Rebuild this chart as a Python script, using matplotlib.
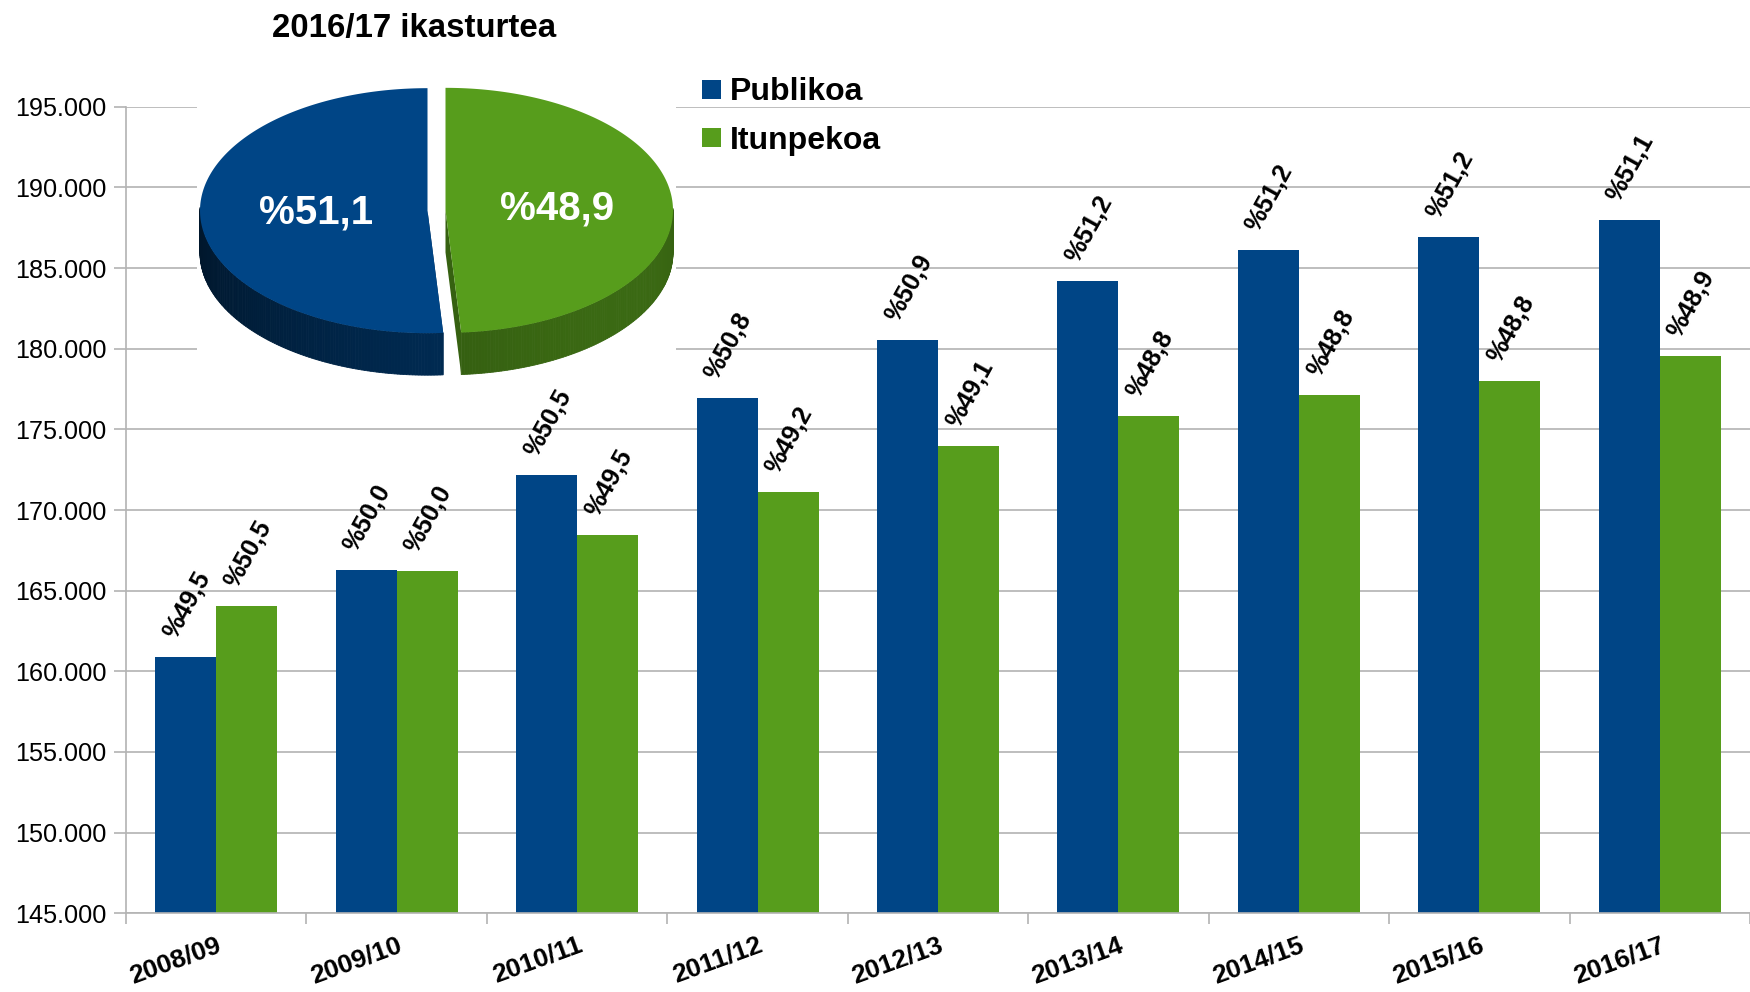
import numpy as np
import matplotlib
matplotlib.use('Agg')
import matplotlib.pyplot as plt
from matplotlib.patches import Polygon, Rectangle
from matplotlib.ticker import FuncFormatter, MultipleLocator, FixedLocator
from matplotlib.colors import to_rgb

plt.rcParams['font.family'] = ['Liberation Sans', 'DejaVu Sans']

# ---------------- data ----------------
years = ['2008/09', '2009/10', '2010/11', '2011/12', '2012/13',
         '2013/14', '2014/15', '2015/16', '2016/17']
publikoa = [160910, 166280, 172170, 176930, 180540, 184200, 186120, 186930, 187990]
itunpekoa = [164050, 166220, 168450, 171100, 173970, 175830, 177130, 178000, 179560]
pct_publikoa = ['49,5', '50,0', '50,5', '50,8', '50,9', '51,2', '51,2', '51,2', '51,1']
pct_itunpekoa = ['50,5', '50,0', '49,5', '49,2', '49,1', '48,8', '48,8', '48,8', '48,9']
series_names = ['Publikoa', 'Itunpekoa']
pie_title = '2016/17 ikasturtea'
pie_shares = [51.1, 48.9]
pie_labels = ['%51,1', '%48,9']

colors = ['#004586', '#579d1c']
GRID = '#b3b3b3'

W, H = 1750, 992
fig = plt.figure(figsize=(W / 100, H / 100), dpi=100)

# ---------------- bar chart ----------------
y_top_px, y_bot_px, x_left_px = 106.7, 913.3, 126
ax = fig.add_axes([x_left_px / W, 1 - y_bot_px / H, (W - x_left_px) / W, (y_bot_px - y_top_px) / H])
n = len(years)
xc = np.arange(n) + 0.5
bw = 61 / 180.4
ax.bar(xc - bw / 2, publikoa, bw, color=colors[0], zorder=2, label=series_names[0])
ax.bar(xc + bw / 2, itunpekoa, bw, color=colors[1], zorder=2, label=series_names[1])
ax.set_xlim(0, n)
ax.set_ylim(145000, 195000)
ax.yaxis.set_major_locator(MultipleLocator(5000))
ax.yaxis.set_major_formatter(FuncFormatter(lambda v, p: f'{int(round(v)):,}'.replace(',', '.')))
ax.grid(axis='y', color=GRID, lw=1.2, zorder=0)
ax.set_axisbelow(True)
for s in ['top', 'right']:
    ax.spines[s].set_visible(False)
for s in ['left', 'bottom']:
    ax.spines[s].set_color(GRID)
    ax.spines[s].set_linewidth(1.2)
ax.tick_params(axis='y', length=8.6, width=1.2, color=GRID, labelsize=18.2, pad=5.5, labelcolor='black')
ax.set_xticks(xc)
ax.set_xticklabels(years, rotation=20, ha='right', rotation_mode='anchor',
                   fontsize=19, fontweight='bold')
ax.tick_params(axis='x', which='major', length=0, pad=14.0)
ax.xaxis.set_minor_locator(FixedLocator(np.arange(n + 1)))
ax.tick_params(axis='x', which='minor', length=7.9, width=1.2, color=GRID)

for vals, pcts, off in [(publikoa, pct_publikoa, -bw / 2), (itunpekoa, pct_itunpekoa, bw / 2)]:
    for xi, v, p in zip(xc + off, vals, pcts):
        ax.annotate('%' + p, (xi, v), xytext=(1, 10.5), textcoords='offset points',
                    ha='center', va='bottom', rotation=61, fontsize=18.4, fontweight='bold',
                    annotation_clip=False, zorder=5)

# ---------------- overlay (pie, legend, title) in pixel coordinates ----------------
pax = fig.add_axes([0, 0, 1, 1], zorder=10)
pax.set_xlim(0, W)
pax.set_ylim(H, 0)
pax.axis('off')
pax.patch.set_alpha(0)

# white background box of pie picture
pax.add_patch(Rectangle((197, 84), 479, 296, fc='white', ec='none'))

cx, cy, rx, ry, depth, expl = 436.5, 210.5, 227.5, 122.5, 42, 9


def rim(c, t, down=0.0):
    return (c[0] + rx * np.cos(t), c[1] - ry * np.sin(t) + down)


shares = np.array(pie_shares) / np.sum(pie_shares)
t_start = np.deg2rad(90)
slices = []
for i, s in enumerate(shares):
    t0 = t_start
    t1 = t_start + 2 * np.pi * s
    t_start = t1
    mid = (t0 + t1) / 2
    c = (cx + expl * np.cos(mid), cy - expl * np.sin(mid) * ry / rx)
    slices.append((t0, t1, mid, c, colors[i]))


def shade(col, f):
    r, g, b = to_rgb(col)
    return (min(r * f, 1), min(g * f, 1), min(b * f, 1))


# sides & cut faces
for t0, t1, mid, c, col in slices:
    for tb in (t0, t1):
        p = [c, rim(c, tb), rim(c, tb, depth), (c[0], c[1] + depth)]
        pax.add_patch(Polygon(p, closed=True, fc=shade(col, 0.62), ec='none'))
    ts = np.linspace(t0, t1, 240)
    for a, b in zip(ts[:-1], ts[1:]):
        m = (a + b) / 2
        if np.sin(m) < 0.02:
            f = 0.47 + 0.2 * np.cos(m - np.deg2rad(320))
            p = [rim(c, a), rim(c, b), rim(c, b, depth), rim(c, a, depth)]
            pax.add_patch(Polygon(p, closed=True, fc=shade(col, f), ec=shade(col, f), lw=0.6))

# tops
for (t0, t1, mid, c, col), lab in zip(slices, pie_labels):
    ts = np.linspace(t0, t1, 300)
    p = [c] + [rim(c, t) for t in ts]
    pax.add_patch(Polygon(p, closed=True, fc=col, ec='none'))
    k = 0.49
    pax.text(c[0] + k * rx * np.cos(mid), c[1] - k * ry * np.sin(mid), lab,
             color='white', fontsize=29, fontweight='bold', ha='center', va='center')

# title
pax.text(414.5, 36.7, pie_title, fontsize=23.8, fontweight='bold', ha='center', va='baseline')

# legend
for i, name in enumerate(series_names):
    y0 = 80 + 48 * i
    pax.add_patch(Rectangle((702, y0), 19, 19, fc=colors[i], ec='none'))
    pax.text(730, y0 + 20.5, name, fontsize=23, fontweight='bold', ha='left', va='baseline')

fig.savefig('out.png', dpi=100)
